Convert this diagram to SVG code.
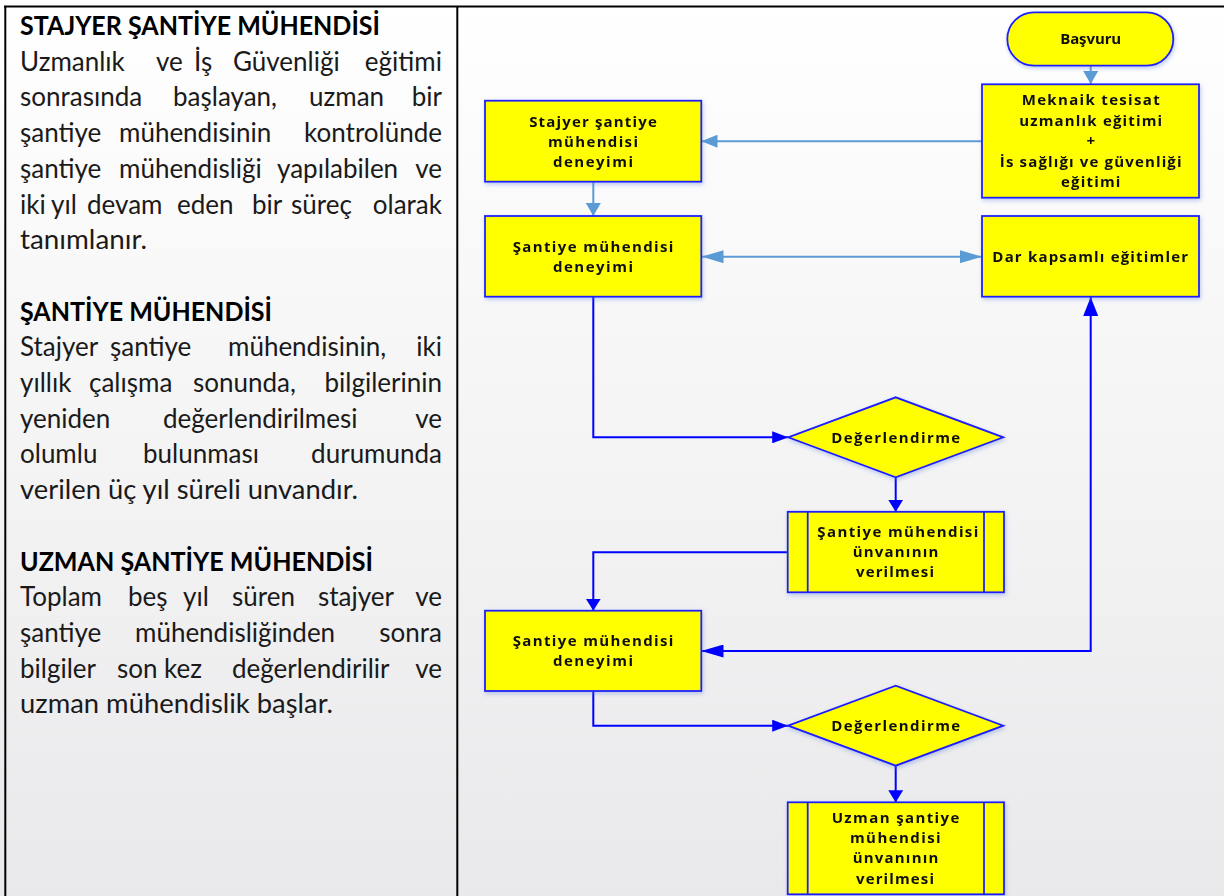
<svg xmlns="http://www.w3.org/2000/svg" width="1224" height="896" viewBox="0 0 1224 896">
<style>
.body{font-family:Lato,"Open Sans","Liberation Sans",sans-serif;font-size:26px;fill:#1a1a1a}
.ttl{font-family:Lato,"Open Sans","Liberation Sans",sans-serif;font-size:26px;font-weight:bold;fill:#000}
.end{text-anchor:end}
.nt{font-family:"Open Sans",Lato,"Liberation Sans",sans-serif;font-size:15px;font-weight:bold;fill:#111;text-anchor:middle}
.box{fill:#ffff00;stroke:#1f1fff;stroke-width:1.8}
.lb{fill:none;stroke:#5b9bd5;stroke-width:2}
.bl{fill:none;stroke:#0000ff;stroke-width:2}
.frame{stroke:#000;stroke-width:2;fill:none}
</style>
<defs>
<linearGradient id="bg" x1="0" y1="0" x2="0" y2="1">
<stop offset="0" stop-color="#ffffff"/>
<stop offset="1" stop-color="#e9e9eb"/>
</linearGradient>
<filter id="sh" x="-10%" y="-10%" width="130%" height="130%">
<feDropShadow dx="1" dy="2" stdDeviation="2" flood-color="#5f7fd8" flood-opacity="0.4"/>
</filter>
<marker id="lbA" markerUnits="userSpaceOnUse" viewBox="0 0 13 15" markerWidth="13" markerHeight="15" refX="13" refY="7.5" orient="auto"><path d="M0,0 L13,7.5 L0,15 z" fill="#5b9bd5"/></marker>
<marker id="lbB" markerUnits="userSpaceOnUse" viewBox="0 0 16 13" markerWidth="16" markerHeight="13" refX="16" refY="6.5" orient="auto"><path d="M0,0 L16,6.5 L0,13 z" fill="#5b9bd5"/></marker>
<marker id="lbC" markerUnits="userSpaceOnUse" viewBox="0 0 22 13" markerWidth="22" markerHeight="13" refX="22" refY="6.5" orient="auto-start-reverse"><path d="M0,0 L22,6.5 L0,13 z" fill="#5b9bd5"/></marker>
<marker id="bA" markerUnits="userSpaceOnUse" viewBox="0 0 12 15" markerWidth="12" markerHeight="15" refX="12" refY="7.5" orient="auto"><path d="M0,0 L12,7.5 L0,15 z" fill="#0000ff"/></marker>
<marker id="bB" markerUnits="userSpaceOnUse" viewBox="0 0 16 12" markerWidth="16" markerHeight="12" refX="16" refY="6" orient="auto"><path d="M0,0 L16,6 L0,12 z" fill="#0000ff"/></marker>
<marker id="bC" markerUnits="userSpaceOnUse" viewBox="0 0 22 13" markerWidth="22" markerHeight="13" refX="22" refY="6.5" orient="auto-start-reverse"><path d="M0,0 L22,6.5 L0,13 z" fill="#0000ff"/></marker>
<marker id="bD" markerUnits="userSpaceOnUse" viewBox="0 0 19 15" markerWidth="19" markerHeight="15" refX="19" refY="7.5" orient="auto"><path d="M0,0 L19,7.5 L0,15 z" fill="#0000ff"/></marker>
</defs>

<rect x="0" y="0" width="1224" height="896" fill="url(#bg)"/>

<g id="frame">
<line class="frame" x1="4" y1="6.5" x2="1224" y2="6.5"/>
<line class="frame" x1="5.3" y1="6" x2="5.3" y2="896"/>
<line class="frame" x1="457.3" y1="6" x2="457.3" y2="896"/>
</g>

<g id="left-text">
<text class="ttl" x="20" y="35" textLength="360" lengthAdjust="spacingAndGlyphs">STAJYER ŞANTİYE MÜHENDİSİ</text>
<text class="body" y="70.7"><tspan x="20">Uzmanlık</tspan><tspan x="156">ve</tspan><tspan x="194">İş</tspan><tspan x="233">Güvenliği</tspan></text>
<text class="body end" x="442" y="70.7">eğitimi</text>
<text class="body" y="106.4"><tspan x="20">sonrasında</tspan><tspan x="173">başlayan,</tspan><tspan x="309">uzman</tspan></text>
<text class="body end" x="442" y="106.4">bir</text>
<text class="body" y="142.1"><tspan x="20">şantiye</tspan><tspan x="119">mühendisinin</tspan></text>
<text class="body end" x="442" y="142.1">kontrolünde</text>
<text class="body" y="177.8"><tspan x="20">şantiye</tspan><tspan x="119">mühendisliği</tspan><tspan x="277">yapılabilen</tspan></text>
<text class="body end" x="442" y="177.8">ve</text>
<text class="body" y="213.5"><tspan x="20">iki</tspan><tspan x="51">yıl</tspan><tspan x="87">devam</tspan><tspan x="177">eden</tspan><tspan x="252">bir</tspan><tspan x="291">süreç</tspan></text>
<text class="body end" x="442" y="213.5">olarak</text>
<text class="body" x="20" y="249.2" textLength="127" lengthAdjust="spacingAndGlyphs">tanımlanır.</text>

<text class="ttl" x="20" y="320.6" textLength="252" lengthAdjust="spacingAndGlyphs">ŞANTİYE MÜHENDİSİ</text>
<text class="body" y="356.3"><tspan x="20">Stajyer</tspan><tspan x="110">şantiye</tspan><tspan x="228">mühendisinin,</tspan></text>
<text class="body end" x="442" y="356.3">iki</text>
<text class="body" y="392"><tspan x="20">yıllık</tspan><tspan x="89">çalışma</tspan><tspan x="193">sonunda,</tspan></text>
<text class="body end" x="442" y="392">bilgilerinin</text>
<text class="body" y="427.7"><tspan x="20">yeniden</tspan><tspan x="163">değerlendirilmesi</tspan></text>
<text class="body end" x="442" y="427.7">ve</text>
<text class="body" y="463.4"><tspan x="20">olumlu</tspan><tspan x="143">bulunması</tspan></text>
<text class="body end" x="442" y="463.4">durumunda</text>
<text class="body" x="20" y="499.1" textLength="338" lengthAdjust="spacingAndGlyphs">verilen üç yıl süreli unvandır.</text>

<text class="ttl" x="20" y="570.5" textLength="353" lengthAdjust="spacingAndGlyphs">UZMAN ŞANTİYE MÜHENDİSİ</text>
<text class="body" y="606.2"><tspan x="20">Toplam</tspan><tspan x="128">beş</tspan><tspan x="183">yıl</tspan><tspan x="232">süren</tspan><tspan x="318">stajyer</tspan></text>
<text class="body end" x="442" y="606.2">ve</text>
<text class="body" y="641.9"><tspan x="20">şantiye</tspan><tspan x="135">mühendisliğinden</tspan></text>
<text class="body end" x="442" y="641.9">sonra</text>
<text class="body" y="677.6"><tspan x="20">bilgiler</tspan><tspan x="117">son</tspan><tspan x="164">kez</tspan><tspan x="232">değerlendirilir</tspan></text>
<text class="body end" x="442" y="677.6">ve</text>
<text class="body" x="20" y="713.3" textLength="313" lengthAdjust="spacingAndGlyphs">uzman mühendislik başlar.</text>
</g>

<g id="connectors">
<path class="lb" d="M1090.7,66 V84" marker-end="url(#lbA)"/>
<path class="lb" d="M982,141.2 H701.5" marker-end="url(#lbB)"/>
<path class="lb" d="M593.3,182 V216" marker-end="url(#lbA)"/>
<path class="lb" d="M701.5,256.7 H982" marker-start="url(#lbC)" marker-end="url(#lbC)"/>
<path class="bl" d="M593.3,297 V437.3 H788.2" marker-end="url(#bB)"/>
<path class="bl" d="M895.7,477.3 V511.8" marker-end="url(#bA)"/>
<path class="bl" d="M788,552.3 H593.3 V610.7" marker-end="url(#bA)"/>
<path class="bl" d="M701.5,651 H1090.7 V297" marker-start="url(#bC)" marker-end="url(#bD)"/>
<path class="bl" d="M593.3,691 V725.7 H788.2" marker-end="url(#bB)"/>
<path class="bl" d="M895.7,765.7 V802.3" marker-end="url(#bA)"/>
</g>

<g id="basvuru" filter="url(#sh)">
<rect class="box" x="1007.3" y="12.3" width="166" height="53.4" rx="26.7"/>
<text class="nt" x="1090.7" y="44" textLength="61" lengthAdjust="spacing">Başvuru</text>
</g>

<g id="meknaik" filter="url(#sh)">
<rect class="box" x="982" y="84.3" width="217" height="113.4"/>
<text class="nt" x="1090.7" y="105" textLength="138" lengthAdjust="spacing">Meknaik tesisat</text>
<text class="nt" x="1090.7" y="125.5" textLength="143" lengthAdjust="spacing">uzmanlık eğitimi</text>
<text class="nt" x="1090.7" y="146">+</text>
<text class="nt" x="1090.7" y="166.5" textLength="181.7" lengthAdjust="spacing">İs sağlığı ve güvenliği</text>
<text class="nt" x="1090.7" y="187" textLength="59.3" lengthAdjust="spacing">eğitimi</text>
</g>

<g id="stajyer" filter="url(#sh)">
<rect class="box" x="485" y="100.7" width="216.3" height="81"/>
<text class="nt" x="593" y="126.7" textLength="127.7" lengthAdjust="spacing">Stajyer şantiye</text>
<text class="nt" x="593" y="146.7" textLength="90" lengthAdjust="spacing">mühendisi</text>
<text class="nt" x="593" y="166.7" textLength="80" lengthAdjust="spacing">deneyimi</text>
</g>

<g id="santiye1" filter="url(#sh)">
<rect class="box" x="485" y="216" width="216.3" height="80.7"/>
<text class="nt" x="593" y="251.8" textLength="160.7" lengthAdjust="spacing">Şantiye mühendisi</text>
<text class="nt" x="593" y="272" textLength="80" lengthAdjust="spacing">deneyimi</text>
</g>

<g id="dar" filter="url(#sh)">
<rect class="box" x="982" y="216" width="217" height="80.7"/>
<text class="nt" x="1090.2" y="261.7" textLength="195.7" lengthAdjust="spacing">Dar kapsamlı eğitimler</text>
</g>

<g id="degerlendirme1" filter="url(#sh)">
<polygon class="box" points="788.2,437.3 895.7,397.3 1003.3,437.3 895.7,477.3"/>
<text class="nt" x="895.7" y="443.3" textLength="129" lengthAdjust="spacing">Değerlendirme</text>
</g>

<g id="unvan1" filter="url(#sh)">
<rect class="box" x="787.7" y="511.8" width="216.3" height="80.5"/>
<line class="box" x1="807.7" y1="511.8" x2="807.7" y2="592.3"/>
<line class="box" x1="984" y1="511.8" x2="984" y2="592.3"/>
<text class="nt" x="897.8" y="536.7" textLength="161" lengthAdjust="spacing">Şantiye mühendisi</text>
<text class="nt" x="895.5" y="556.7" textLength="85.7" lengthAdjust="spacing">ünvanının</text>
<text class="nt" x="895" y="577.3" textLength="78" lengthAdjust="spacing">verilmesi</text>
</g>

<g id="santiye2" filter="url(#sh)">
<rect class="box" x="485" y="610.7" width="216.3" height="80.3"/>
<text class="nt" x="593" y="645.7" textLength="160.7" lengthAdjust="spacing">Şantiye mühendisi</text>
<text class="nt" x="593" y="665.9" textLength="80" lengthAdjust="spacing">deneyimi</text>
</g>

<g id="degerlendirme2" filter="url(#sh)">
<polygon class="box" points="788.2,725.7 895.7,685.7 1003.3,725.7 895.7,765.7"/>
<text class="nt" x="895.7" y="731.3" textLength="129" lengthAdjust="spacing">Değerlendirme</text>
</g>

<g id="unvan2" filter="url(#sh)">
<rect class="box" x="787.7" y="802.3" width="216.3" height="92"/>
<line class="box" x1="807.7" y1="802.3" x2="807.7" y2="894.3"/>
<line class="box" x1="984" y1="802.3" x2="984" y2="894.3"/>
<text class="nt" x="895.5" y="822.7" textLength="127.7" lengthAdjust="spacing">Uzman şantiye</text>
<text class="nt" x="895.3" y="843.3" textLength="90.7" lengthAdjust="spacing">mühendisi</text>
<text class="nt" x="895.5" y="863.3" textLength="85.7" lengthAdjust="spacing">ünvanının</text>
<text class="nt" x="895" y="884" textLength="78" lengthAdjust="spacing">verilmesi</text>
</g>
</svg>
